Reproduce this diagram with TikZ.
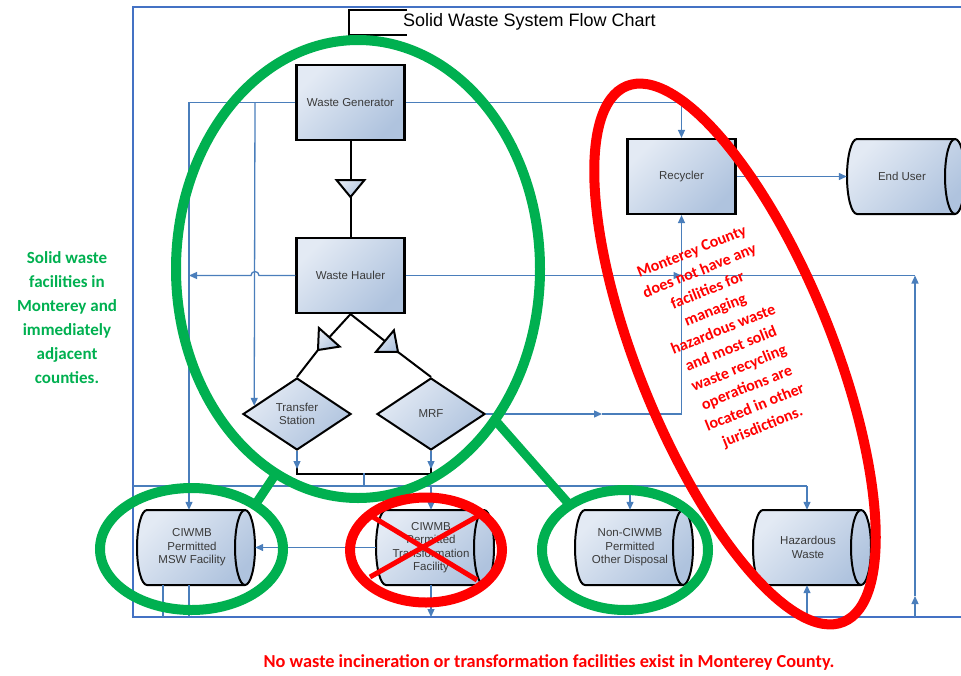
\documentclass[tikz,border=0pt]{standalone}
\usepackage{fontspec}
\setmainfont{Liberation Sans}
\newfontfamily\carl{Carlito}
\usetikzlibrary{arrows.meta,shapes.geometric,calc}
\definecolor{frameblue}{HTML}{4472C4}
\definecolor{connblue}{HTML}{4A7EBB}
\definecolor{boxlt}{HTML}{E3EAF4}
\definecolor{boxdk}{HTML}{AFC3DE}
\definecolor{txtgray}{HTML}{3A3A3A}
\definecolor{grn}{HTML}{00B050}
\definecolor{rd}{HTML}{FF0000}
\newcommand\boxfont{\fontsize{11.5}{13.5}\selectfont}
\tikzset{
 conn/.style={draw=connblue,line width=1.3pt},
 arr/.style={-{Triangle[length=8pt,width=7pt]}},
 blk/.style={draw=black,line width=2pt},
 shadefill/.style={top color=boxlt,bottom color=boxdk,shading angle=45},
 boxn/.style={shape=rectangle,draw=black,line width=2.2pt,shadefill,minimum width=108pt,minimum height=75pt,inner sep=0pt,font=\boxfont,text=txtgray,align=center},
 diam/.style={shape=diamond,draw=black,line width=2pt,shadefill,minimum width=108pt,minimum height=72pt,inner sep=0pt,font=\boxfont,text=txtgray,align=center},
 cylbody/.style={draw=black,line width=2pt,shadefill},
 cyltext/.style={minimum width=98pt,minimum height=75pt,inner sep=0pt,font=\boxfont,text=txtgray,align=center},
 greenring/.style={draw=grn,line width=10pt},
 redring/.style={draw=rd,line width=10pt},
}
\newcommand\cylat[4]{%
  \path[cylbody] (#2-45,#3-37.5) -- (#2+53,#3-37.5)
    arc[start angle=90,end angle=-90,x radius=10pt,y radius=37.5pt]
    -- (#2-45,#3+37.5)
    arc[start angle=270,end angle=90,x radius=10pt,y radius=37.5pt] -- cycle;
  \draw[black,line width=2pt] (#2+53,#3-37.5) arc[start angle=90,end angle=270,x radius=10pt,y radius=37.5pt];
  \node[cyltext] (#1) at (#2,#3) {#4};
}
\begin{document}
\begin{tikzpicture}[x=1pt,y=-1pt]
\useasboundingbox (0,0) rectangle (961,675);
% frame
\draw[frameblue,line width=1.6pt] (985,7) -- (133,7) -- (133,617) -- (985,617);
% title
\draw[black,line width=2.2pt] (407,10) -- (349,10) -- (349,35) -- (407,35);
\node[anchor=west,font=\fontsize{18}{20}\selectfont,inner sep=0pt] (title) at (403,22) {Solid Waste System Flow Chart};
% shapes
\node[boxn] (gen) at (350.5,102.5) {Waste Generator};
\node[boxn] (haul) at (350.5,275.5) {Waste Hauler};
\node[boxn] (recy) at (681.5,176.5) {Recycler};
\node[diam] (ts) at (297,414) {Transfer\\Station};
\node[diam] (mrf) at (431,414) {MRF};
\cylat{endu}{902}{176.5}{End User}
\cylat{msw}{192}{547.5}{CIWMB\\Permitted\\MSW Facility}
\cylat{trans}{431}{547.5}{CIWMB\\Permitted\\Transformation\\Facility}
\cylat{non}{630}{547.5}{Non-CIWMB\\Permitted\\Other Disposal}
\cylat{haz}{808}{547.5}{Hazardous\\Waste}
% black flow with merge triangles
\coordinate (t0b) at (350.5,180); \coordinate (t0t) at (350.5,197);
\draw[blk] (gen.south) -- (t0b);
\draw[blk] (t0t) -- (haul.north);
\path[blk,shadefill,line join=miter] (336.5,180) -- (364.5,180) -- (t0t) -- cycle;
\coordinate (t1b) at (329.3,337.3); \coordinate (t1t) at (318,350);
\draw[blk] (haul.south) -- (t1b);
\draw[blk] (t1t) -- (ts.north);
\path[blk,shadefill,line join=miter] (339.7,346.6) -- (318.9,328) -- (t1t) -- cycle;
\coordinate (t2b) at (384.9,341.1); \coordinate (t2t) at (398,352);
\draw[blk] (haul.south) -- (t2b);
\draw[blk] (t2t) -- (mrf.north);
\path[blk,shadefill,line join=miter] (375.9,351.9) -- (393.9,330.3) -- (t2t) -- cycle;
\draw[blk] (ts.south) -- ++(0,23) -| (mrf.south);
\coordinate (jn) at (364,473);
\draw[conn,arr] (ts.south) -- ++(0,18);
\draw[conn,arr] (mrf.south) -- ++(0,18);
% blue connectors
\coordinate (gL) at (189,102.5);
\coordinate (gM) at (255,102.5);
\draw[conn,arr] (gen.west) -- (gL) -- (gL |- msw.north);
\draw[conn,arr] (gM) -- ($(ts.west)!0.2222!(ts.north)$);
\draw[conn,arr] (gen.east) -| (recy.north);
\draw[conn,arr] (haul.west) -- (259,275.5) arc[start angle=0,end angle=180,radius=4pt] -- (gL |- haul.west);
\coordinate (rx) at (recy.south |- haul.east);
\coordinate (rc) at (915,275.5);
\coordinate (rb) at (915,617);
\coordinate (rm) at (915,596);
\draw[conn,arr] (haul.east) -- (rx);
\draw[conn] (rx) -- (rc);
\draw[conn,arr] (rb) -- (rm);
\draw[conn,arr] (rm) -- (rc);
\coordinate (mm) at (602,414);
\draw[conn,arr] (mrf.east) -- (mm);
\draw[conn,arr] (mm) -| (recy.south);
\draw[conn,arr] (recy.east) -- ([xshift=-6pt]endu.west);
\draw[conn,arr] ([xshift=-6pt]trans.west) -- ([xshift=14pt]msw.east);
\coordinate (hb) at (364,486);
\coordinate (tx) at (431,486);
\coordinate (nx) at (630,486);
\coordinate (hx) at (807,486);
\draw[conn] (jn) -- (hb);
\draw[conn] (133,486) -- (hx);
\draw[conn,arr] (tx) -- (tx |- trans.north);
\draw[conn,arr] (nx) -- (nx |- non.north);
\draw[conn,arr] (hx) -- (hx |- haz.north);
\coordinate (b1) at (163,617);
\draw[conn] (b1 |- msw.south) -- (b1);
\draw[conn] (gL |- msw.south) -- (gL |- b1);
\draw[conn,arr] (tx |- trans.south) -- (tx |- b1);
\draw[conn,arr] (hx |- b1) -- (hx |- haz.south);
% annotation rings
\draw[greenring] (358,269) ellipse[x radius=182pt,y radius=229pt];
\draw[greenring] (191.5,549) ellipse[x radius=91.5pt,y radius=61pt];
\draw[greenring] (625,550) ellipse[x radius=83pt,y radius=60pt];
\draw[grn,line width=9pt] (277,472) -- (255,505);
\draw[grn,line width=9pt] (495,420) -- (568,503);
\draw[redring] (426,550) ellipse[x radius=76pt,y radius=52.5pt];
\draw[rd,line width=5pt] (373,517) -- (477,580);
\draw[rd,line width=5pt] (478,516) -- (370,577);
\draw[redring,rotate around={-68:(735,354)}] (735,354) ellipse[x radius=289pt,y radius=97pt];
% annotation texts
\node[font=\carl\bfseries\fontsize{17}{24}\selectfont,text=grn,align=center] (lefttxt) at (67,318) {Solid waste\\facilities in\\Monterey and\\immediately\\adjacent\\counties.};
\node[font=\carl\bfseries\fontsize{16}{21}\selectfont,text=rd,align=center,rotate=22] (redtxt) at (727.5,340) {Monterey County\\does not have any\\facilities for\\managing\\hazardous waste\\and most solid\\waste recycling\\operations are\\located in other\\jurisdictions.};
\node[font=\carl\bfseries\fontsize{18.3}{20}\selectfont,text=rd] (bottxt) at (549,662) {No waste incineration or transformation facilities exist in Monterey County.};
\end{tikzpicture}
\end{document}
